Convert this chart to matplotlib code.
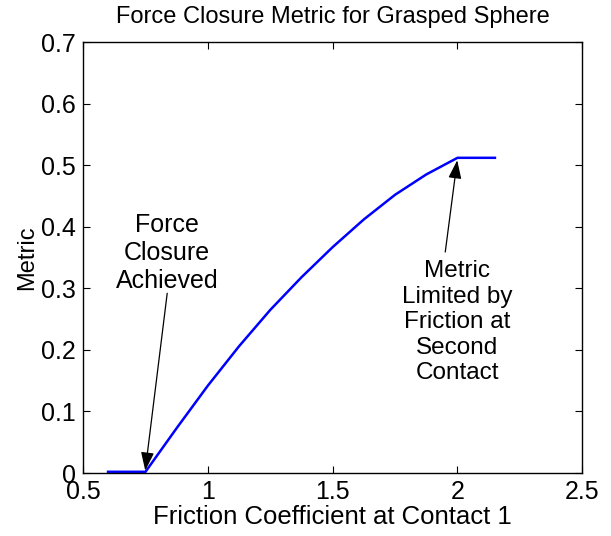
import matplotlib.pyplot as plt

# friction coefficient vs. metric
mu = [0.6, 0.75, 0.875, 1.0, 1.125, 1.25, 1.375, 1.5, 1.625, 1.75, 1.875, 2.0, 2.15]
metric = [0.002, 0.002, 0.073, 0.142, 0.206, 0.265, 0.318, 0.367, 0.412, 0.452, 0.485, 0.512, 0.512]

xticks = [0.5, 1, 1.5, 2, 2.5]
xticklabels = ["0.5", "1", "1.5", "2", "2.5"]
yticks = [0, 0.1, 0.2, 0.3, 0.4, 0.5, 0.6, 0.7]
yticklabels = ["0", "0.1", "0.2", "0.3", "0.4", "0.5", "0.6", "0.7"]

plt.rcParams['font.family'] = ['Liberation Sans', 'DejaVu Sans']

fig = plt.figure(figsize=(6.11, 5.36), dpi=100)
ax = fig.add_axes([0.136, 0.1175, 0.817, 0.804])

ax.plot(mu, metric, color=(0, 0, 1), linewidth=1.8)

ax.set_xlim(0.5, 2.5)
ax.set_ylim(0, 0.7)
ax.set_xticks(xticks)
ax.set_xticklabels(xticklabels)
ax.set_yticks(yticks)
ax.set_yticklabels(yticklabels)
ax.tick_params(direction='in', top=True, right=True, length=5, labelsize=18, pad=5)
for s in ax.spines.values():
    s.set_linewidth(1.0)

ax.set_title("Force Closure Metric for Grasped Sphere", fontsize=17, pad=14)
ax.set_xlabel("Friction Coefficient at Contact 1", fontsize=18.5, labelpad=1)
ax.set_ylabel("Metric", fontsize=17, labelpad=2)

arrow = dict(arrowstyle='-|>,head_length=0.7,head_width=0.25', color='black', lw=0.9,
             mutation_scale=16, shrinkA=0, shrinkB=0)

ax.text(0.837, 0.357, "Force\nClosure\nAchieved", ha='center', va='center',
        fontsize=18, linespacing=1.2)
ax.annotate("", xy=(0.749, 0.004), xytext=(0.837, 0.292), arrowprops=arrow)

ax.text(2.0, 0.245, "Metric\nLimited by\nFriction at\nSecond\nContact", ha='center', va='center',
        fontsize=17.5, linespacing=1.2)
ax.annotate("", xy=(1.999, 0.508), xytext=(1.951, 0.359), arrowprops=arrow)

fig.savefig("out.png", dpi=100)
